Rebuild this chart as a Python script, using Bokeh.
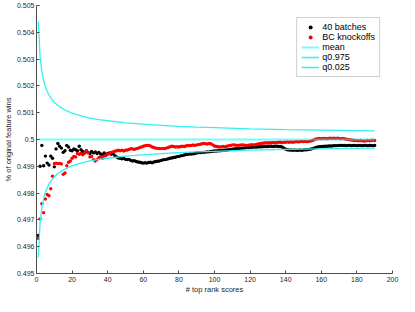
from bokeh.plotting import figure
from bokeh.models import FixedTicker, Legend, LegendItem
from bokeh.embed import file_html
from bokeh.resources import INLINE

# ---- data ----
rank = list(range(1, 191))

batches40 = [
    0.49642, 0.49900, 0.49978, 0.49902, 0.49938, 0.49912, 0.49905, 0.49938, 0.49930, 0.49898,
    0.49965, 0.49985, 0.49975, 0.49968, 0.49952, 0.49958, 0.49978, 0.49972, 0.49960, 0.49958,
    0.49965, 0.49962, 0.49958, 0.49975, 0.49962, 0.49955, 0.49950, 0.49958, 0.49952, 0.49948,
    0.49955, 0.49950, 0.49954, 0.49948, 0.49952, 0.49946, 0.49944, 0.49950, 0.49943, 0.49948,
    0.49950, 0.49945, 0.49948, 0.49940, 0.49935, 0.49931, 0.49930, 0.49928, 0.49930, 0.49926,
    0.49925, 0.49926, 0.49922, 0.49920, 0.49921, 0.49918, 0.49916, 0.49915, 0.49913, 0.49912,
    0.49913, 0.49912, 0.49914, 0.49915, 0.49913, 0.49916, 0.49918, 0.49919, 0.49920, 0.49922,
    0.49924, 0.49925, 0.49926, 0.49928, 0.49930, 0.49931, 0.49933, 0.49934, 0.49936, 0.49937,
    0.49939, 0.49940, 0.49942, 0.49944, 0.49945, 0.49946, 0.49946, 0.49947, 0.49948, 0.49950,
    0.49951, 0.49951, 0.49952, 0.49952, 0.49953, 0.49954, 0.49954, 0.49955, 0.49956, 0.49957,
    0.49957, 0.49958, 0.49958, 0.49959, 0.49960, 0.49960, 0.49961, 0.49962, 0.49963, 0.49964,
    0.49965, 0.49966, 0.49966, 0.49967, 0.49968, 0.49968, 0.49969, 0.49970, 0.49970, 0.49971,
    0.49971, 0.49972, 0.49972, 0.49972, 0.49973, 0.49973, 0.49973, 0.49974, 0.49974, 0.49974,
    0.49975, 0.49975, 0.49974, 0.49975, 0.49975, 0.49974, 0.49974, 0.49972, 0.49968, 0.49964,
    0.49962, 0.49961, 0.49961, 0.49960, 0.49961, 0.49960, 0.49960, 0.49961, 0.49960, 0.49961,
    0.49962, 0.49962, 0.49963, 0.49964, 0.49966, 0.49968, 0.49970, 0.49972, 0.49973, 0.49974,
    0.49974, 0.49975, 0.49975, 0.49976, 0.49976, 0.49976, 0.49977, 0.49977, 0.49977, 0.49978,
    0.49978, 0.49978, 0.49978, 0.49977, 0.49978, 0.49978, 0.49977, 0.49978, 0.49978, 0.49977,
    0.49978, 0.49978, 0.49977, 0.49978, 0.49978, 0.49977, 0.49978, 0.49978, 0.49977, 0.49978,
]

bc_knockoffs = [
    0.49631, 0.49704, 0.49760, 0.49727, 0.49778, 0.49795, 0.49790, 0.49816, 0.49863, 0.49910,
    0.49912, 0.49910, 0.49911, 0.49909, 0.49870, 0.49875, 0.49902, 0.49915, 0.49920, 0.49930,
    0.49937, 0.49935, 0.49948, 0.49945, 0.49948, 0.49943, 0.49950, 0.49958, 0.49950, 0.49935,
    0.49937, 0.49925, 0.49920, 0.49925, 0.49932, 0.49935, 0.49930, 0.49938, 0.49940, 0.49945,
    0.49948, 0.49952, 0.49954, 0.49956, 0.49958, 0.49960, 0.49958, 0.49960, 0.49957, 0.49960,
    0.49961, 0.49963, 0.49966, 0.49965, 0.49963, 0.49966, 0.49967, 0.49970, 0.49972, 0.49975,
    0.49977, 0.49978, 0.49978, 0.49976, 0.49972, 0.49970, 0.49968, 0.49967, 0.49966, 0.49966,
    0.49967, 0.49966, 0.49968, 0.49970, 0.49973, 0.49975, 0.49974, 0.49972, 0.49973, 0.49972,
    0.49974, 0.49975, 0.49974, 0.49976, 0.49978, 0.49977, 0.49978, 0.49980, 0.49978, 0.49980,
    0.49981, 0.49982, 0.49984, 0.49985, 0.49984, 0.49983, 0.49985, 0.49984, 0.49980, 0.49976,
    0.49974, 0.49973, 0.49972, 0.49973, 0.49974, 0.49973, 0.49975, 0.49977, 0.49978, 0.49980,
    0.49980, 0.49979, 0.49978, 0.49979, 0.49980, 0.49980, 0.49979, 0.49978, 0.49979, 0.49980,
    0.49981, 0.49980, 0.49981, 0.49982, 0.49984, 0.49985, 0.49986, 0.49987, 0.49988, 0.49987,
    0.49988, 0.49988, 0.49989, 0.49988, 0.49989, 0.49990, 0.49990, 0.49989, 0.49990, 0.49990,
    0.49991, 0.49990, 0.49991, 0.49990, 0.49991, 0.49992, 0.49991, 0.49992, 0.49993, 0.49992,
    0.49993, 0.49992, 0.49993, 0.49994, 0.49996, 0.49999, 0.50002, 0.50003, 0.50004, 0.50003,
    0.50004, 0.50004, 0.50003, 0.50004, 0.50005, 0.50004, 0.50005, 0.50004, 0.50005, 0.50004,
    0.50003, 0.50004, 0.50003, 0.50001, 0.50000, 0.49999, 0.49998, 0.49997, 0.49996, 0.49996,
    0.49995, 0.49996, 0.49995, 0.49994, 0.49995, 0.49996, 0.49995, 0.49996, 0.49997, 0.49996,
]

mean_x = [1, 190]
mean_y = [0.5, 0.5]

q_x = [1, 2, 3, 4, 5, 6, 7, 8, 9, 10, 12, 14, 16, 18, 20, 25, 30, 35, 40, 50,
       60, 70, 80, 90, 100, 120, 140, 160, 180, 190]
q975 = [0.50440, 0.50311, 0.50254, 0.50220, 0.50197, 0.50180, 0.50166, 0.50156, 0.50147, 0.50139,
        0.50127, 0.50118, 0.50110, 0.50104, 0.50098, 0.50088, 0.50080, 0.50074, 0.50070, 0.50062,
        0.50057, 0.50053, 0.50049, 0.50046, 0.50044, 0.50040, 0.50037, 0.50035, 0.50033, 0.50032]
q025 = [0.49560, 0.49689, 0.49746, 0.49780, 0.49803, 0.49820, 0.49834, 0.49844, 0.49853, 0.49861,
        0.49873, 0.49882, 0.49890, 0.49896, 0.49902, 0.49912, 0.49920, 0.49926, 0.49930, 0.49938,
        0.49943, 0.49947, 0.49951, 0.49954, 0.49956, 0.49960, 0.49963, 0.49965, 0.49967, 0.49968]

x_ticks = [0, 20, 40, 60, 80, 100, 120, 140, 160, 180, 200]
y_ticks = [0.495, 0.496, 0.497, 0.498, 0.499, 0.5, 0.501, 0.502, 0.503, 0.504, 0.505]
y_tick_labels = ["0.495", "0.496", "0.497", "0.498", "0.499", "0.5",
                 "0.501", "0.502", "0.503", "0.504", "0.505"]

FONT = "Liberation Sans"
AX = "#4d4d4d"
TXT = "#262626"
CYAN = "#33f0f0"

p = figure(width=399, height=296, x_range=(0, 200), y_range=(0.495, 0.505),
           output_backend="svg", toolbar_location=None,
           min_border_left=24, min_border_right=7, min_border_top=5, min_border_bottom=0)
p.outline_line_color = None
p.grid.visible = False
p.background_fill_color = "white"
p.border_fill_color = "white"

for ax in (p.xaxis[0], p.yaxis[0]):
    ax.axis_line_color = AX
    ax.major_tick_line_color = AX
    ax.major_tick_in = 3
    ax.major_tick_out = 0
    ax.minor_tick_line_color = None
    ax.major_label_text_font = FONT
    ax.major_label_text_font_size = "7px"
    ax.major_label_text_color = TXT
    ax.axis_label_text_font = FONT
    ax.axis_label_text_font_size = "7.5px"
    ax.axis_label_text_font_style = "normal"
    ax.axis_label_text_color = TXT

p.xaxis.ticker = FixedTicker(ticks=x_ticks)
p.yaxis.ticker = FixedTicker(ticks=y_ticks)
p.yaxis.major_label_overrides = {t: s for t, s in zip(y_ticks, y_tick_labels)}
p.xaxis.axis_label = "# top rank scores"
p.yaxis.axis_label = "% of original feature wins"
p.xaxis.major_label_standoff = 3
p.xaxis.axis_label_standoff = 0
p.yaxis.major_label_standoff = 2
p.yaxis.axis_label_standoff = 1

r_b = p.scatter(rank, batches40, marker="circle", size=3.4, fill_color="black", line_color=None)
r_r = p.scatter(rank, bc_knockoffs, marker="circle", size=3.4, fill_color="red", line_color=None)
r_m = p.line(mean_x, mean_y, line_color="#00ffff", line_width=2, line_alpha=0.55)
r_hi = p.line(q_x, q975, line_color=CYAN, line_width=1.3)
r_lo = p.line(q_x, q025, line_color=CYAN, line_width=1.3)

legend = Legend(items=[
    LegendItem(label="40 batches", renderers=[r_b]),
    LegendItem(label="BC knockoffs", renderers=[r_r]),
    LegendItem(label="mean", renderers=[r_m]),
    LegendItem(label="q0.975", renderers=[r_hi]),
    LegendItem(label="q0.025", renderers=[r_lo]),
], location="top_right")
legend.label_text_font = FONT
legend.label_text_font_size = "9px"
legend.label_text_color = "black"
legend.label_height = 10
legend.glyph_height = 10
legend.glyph_width = 18
legend.label_standoff = 3
legend.spacing = 0
legend.padding = 4
legend.margin = 12
legend.border_line_color = "#a0a0a0"
legend.border_line_width = 1
legend.background_fill_color = "white"
legend.background_fill_alpha = 1
p.add_layout(legend)

open("out.html", "w").write(file_html(p, INLINE))
